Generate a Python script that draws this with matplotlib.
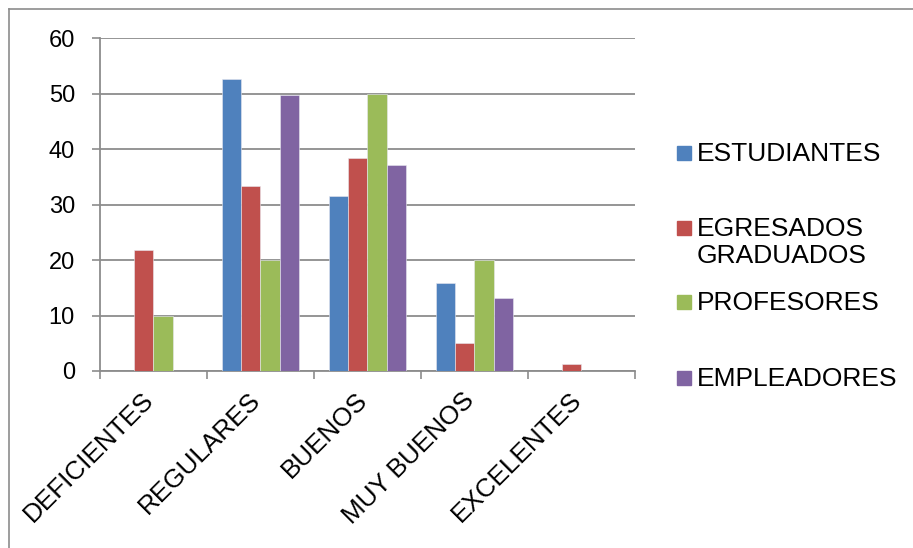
import numpy as np
import matplotlib.pyplot as plt
import matplotlib.transforms as mtransforms
from matplotlib.lines import Line2D
from matplotlib.patches import Rectangle

plt.rcParams["font.family"] = ["Liberation Sans", "DejaVu Sans"]

categorias = ["DEFICIENTES", "REGULARES", "BUENOS", "MUY BUENOS", "EXCELENTES"]
estudiantes = [0, 52.6, 31.6, 15.8, 0]
egresados = [21.8, 33.3, 38.5, 5.1, 1.3]
profesores = [10, 20, 50, 20, 0]
empleadores = [0, 49.7, 37.1, 13.2, 0]

series = ["ESTUDIANTES", "EGRESADOS\nGRADUADOS", "PROFESORES", "EMPLEADORES"]
colores = ["#4F81BD", "#C0504D", "#9BBB59", "#8064A2"]
gris = "#8C8C8C"


def main():
    fig = plt.figure(figsize=(9.13, 5.48), dpi=100)
    ax = fig.add_axes([0.1095, 0.323, 0.586, 0.607])

    x = np.arange(len(categorias))
    ancho = 0.178
    datos = [estudiantes, egresados, profesores, empleadores]
    for i, (valores, color) in enumerate(zip(datos, colores)):
        ax.bar(x + (i - 1.5) * ancho, valores, ancho, color=color,
               edgecolor="#E8E8F0", linewidth=0.4, zorder=3)

    ax.set_xlim(-0.5, len(categorias) - 0.5)
    ax.set_ylim(0, 60)
    ax.set_yticks(range(0, 61, 10))
    ax.yaxis.grid(True, color=gris, linewidth=1.3, zorder=0)
    ax.tick_params(axis="y", length=6, width=1.2, color=gris, pad=12, labelsize=17)

    # etiquetas en el centro, marcas entre categorias
    ax.set_xticks(x)
    ax.set_xticklabels(categorias, rotation=45, ha="right", fontsize=18.8)
    ax.set_xticks(np.arange(-0.5, len(categorias)), minor=True)
    ax.tick_params(axis="x", which="major", length=0, pad=12)
    ax.tick_params(axis="x", which="minor", length=6, width=1.2, color=gris)
    desplaz = mtransforms.ScaledTranslation(5 / 100, 0, fig.dpi_scale_trans)
    for lbl in ax.get_xticklabels():
        lbl.set_transform(lbl.get_transform() + desplaz)

    for lado in ["top", "right"]:
        ax.spines[lado].set_visible(False)
    for lado in ["left", "bottom"]:
        ax.spines[lado].set_color(gris)
        ax.spines[lado].set_linewidth(1.3)

    # leyenda manual (posiciones como en la imagen)
    W, H = 913, 548
    ys = [153, 228, 302, 378]
    for texto, color, y in zip(series, colores, ys):
        fig.patches.append(Rectangle((677 / W, 1 - (y + 7) / H), 14 / W, 14 / H,
                                     transform=fig.transFigure, color=color))
        fig.text(697 / W, 1 - (y - 11) / H, texto, fontsize=19, va="top",
                 ha="left", linespacing=1.15)

    # borde exterior
    fig.add_artist(Line2D([9 / W, 1], [1 - 9 / H, 1 - 9 / H], color="#8C8C8C", lw=1.2))
    fig.add_artist(Line2D([9 / W, 9 / W], [0, 1 - 9 / H], color="#8C8C8C", lw=1.2))

    fig.savefig("out.png", dpi=100)


if __name__ == "__main__":
    main()
